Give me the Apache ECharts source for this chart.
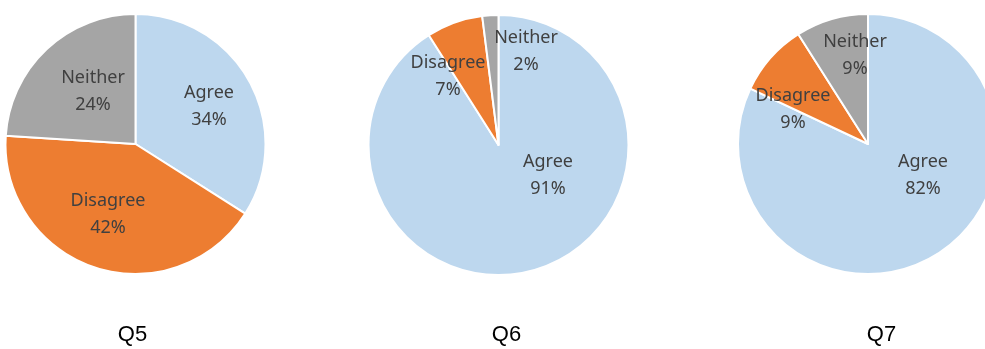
<!DOCTYPE html>
<html><head><meta charset="utf-8">
<script src="https://cdn.jsdelivr.net/npm/echarts@6/dist/echarts.min.js"></script>
<style>html,body{margin:0;padding:0;background:#fff}#c{width:985px;height:349px}</style>
</head><body><div id="c"></div>
<script>
const categories = ['Agree', 'Disagree', 'Neither'];
const questions = ['Q5', 'Q6', 'Q7'];
const q5Values = [34, 42, 24];
const q6Values = [91, 7, 2];
const q7Values = [82, 9, 9];

const colors = ['#BDD7EE', '#ED7D31', '#A5A5A5'];
const centers = [[135.5, 144], [498.5, 145], [868, 144]];
const radius = 130;
// label anchor offsets from pie center (px), layout only
const labelOffsets = [
  [[73.5, -37.5], [-27.5, 70], [-42.5, -53]],
  [[49.5, 30], [-50.5, -69], [27.5, -93.5]],
  [[55, 31], [-75, -34.5], [-13, -88.5]]
];
const titleCenters = [132.5, 506.5, 881.5];

const allValues = [q5Values, q6Values, q7Values];
const chart = echarts.init(document.getElementById('c'));

const series = allValues.map((vals, si) => ({
  type: 'pie',
  center: centers[si],
  radius: radius,
  startAngle: 90,
  clockwise: true,
  silent: true,
  animation: false,
  data: categories.map((c, i) => ({ name: c, value: vals[i] })),
  itemStyle: { borderColor: '#ffffff', borderWidth: 2 },
  label: {
    show: true,
    position: 'inside',
    formatter: '{b}\n{c}%',
    color: '#404040',
    fontFamily: 'Noto Sans',
    fontSize: 18,
    lineHeight: 27
  },
  labelLine: { show: false },
  labelLayout: function (p) {
    const off = labelOffsets[si][p.dataIndex];
    const tx = centers[si][0] + off[0];
    const ty = centers[si][1] + off[1];
    const r = p.labelRect;
    return { dx: tx - (r.x + r.width / 2), dy: ty - (r.y + r.height / 2) };
  }
}));

chart.setOption({
  animation: false,
  color: colors,
  graphic: questions.map((q, i) => ({
    type: 'text',
    x: titleCenters[i],
    y: 335,
    silent: true,
    style: {
      text: q,
      align: 'center',
      verticalAlign: 'middle',
      fontFamily: 'Liberation Sans Narrow, Liberation Sans, sans-serif',
      fontSize: 22,
      fill: '#000'
    }
  })),
  series: series
});
</script></body></html>
